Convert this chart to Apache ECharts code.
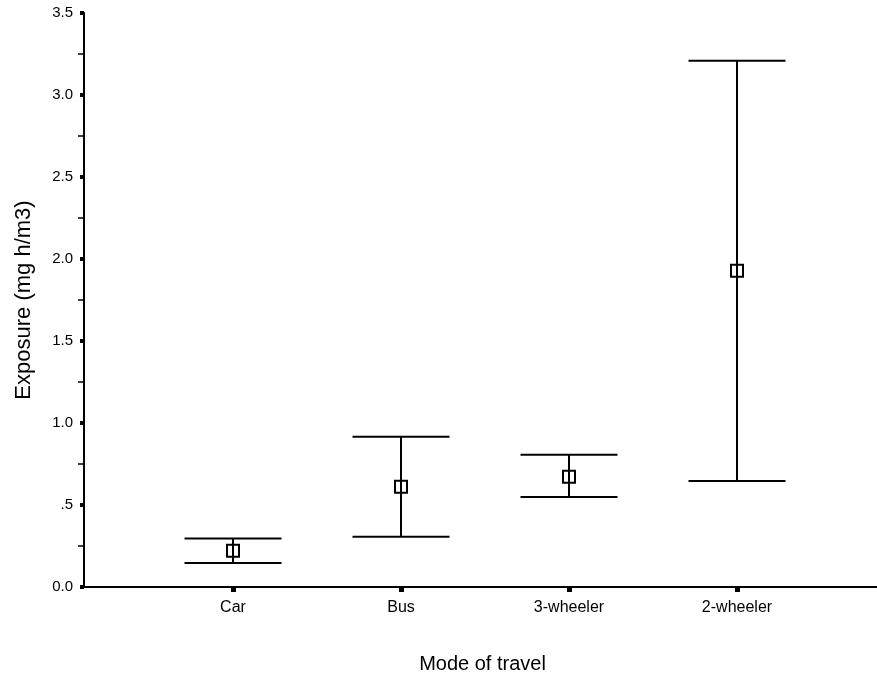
<!DOCTYPE html>
<html>
<head>
<meta charset="utf-8">
<script src="https://cdn.jsdelivr.net/npm/echarts@6/dist/echarts.min.js"></script>
<style>html,body{margin:0;padding:0;background:#fff}#c{width:877px;height:681px}</style>
</head>
<body>
<div id="c"></div>
<script>
const categories = ["Car", "Bus", "3-wheeler", "2-wheeler"];
const means = [0.221, 0.612, 0.673, 1.929];
const lowers = [0.146, 0.307, 0.549, 0.646];
const uppers = [0.295, 0.916, 0.807, 3.209];
const yTicks = [0, 0.5, 1, 1.5, 2, 2.5, 3, 3.5];

const positions = categories.map((c, i) => i + 1);
const FONT = "'Liberation Sans', Arial, sans-serif";

const chart = echarts.init(document.getElementById('c'), null, {renderer: 'canvas'});
const errData = categories.map((c, i) => [positions[i], lowers[i], uppers[i]]);
const meanData = categories.map((c, i) => [positions[i], means[i]]);

chart.setOption({
  animation: false,
  backgroundColor: '#fff',
  grid: {left: 84, right: 0, top: 13, bottom: 94, containLabel: false, outerBoundsMode: 'none'},
  xAxis: {
    type: 'value',
    min: 1 - 149 / 168,
    max: 1 + 644 / 168,
    name: 'Mode of travel',
    nameLocation: 'middle',
    nameGap: 67,
    nameTextStyle: {fontFamily: FONT, fontSize: 20, color: '#000', padding: [0, 0, 0, 4]},
    splitLine: {show: false},
    axisLine: {lineStyle: {color: '#000', width: 2}},
    axisTick: {show: true, customValues: positions, length: 5, inside: false, lineStyle: {color: '#000', width: 5}},
    axisLabel: {customValues: positions, formatter: v => categories[Math.round(v) - 1] || '', fontFamily: FONT, fontSize: 16, color: '#000', margin: 13}
  },
  yAxis: {
    type: 'value',
    min: 0, max: 3.5, interval: 0.5,
    name: 'Exposure (mg h/m3)',
    nameLocation: 'middle',
    nameGap: 49,
    nameTextStyle: {fontFamily: FONT, fontSize: 22, color: '#000'},
    splitLine: {show: false},
    axisLine: {show: true, lineStyle: {color: '#000', width: 2}},
    axisTick: {show: true, length: 4, lineStyle: {color: '#000', width: 4}},
    minorTick: {show: true, splitNumber: 2, length: 6, lineStyle: {color: '#000', width: 1.5}},
    axisLabel: {
      fontFamily: FONT, fontSize: 15, color: '#000', margin: 11,
      formatter: v => { let s = v.toFixed(1); if (v > 0 && v < 1) s = s.slice(1); return s; }
    }
  },
  series: [
    {
      type: 'custom',
      data: errData,
      renderItem: (params, api) => {
        const x = api.value(0);
        const lo = api.coord([x, api.value(1)]);
        const hi = api.coord([x, api.value(2)]);
        const hw = 48.5;
        const style = {stroke: '#000', lineWidth: 2, fill: null};
        return {
          type: 'group',
          children: [
            {type: 'line', shape: {x1: hi[0], y1: hi[1], x2: lo[0], y2: lo[1]}, style},
            {type: 'line', shape: {x1: hi[0] - hw, y1: hi[1], x2: hi[0] + hw, y2: hi[1]}, style},
            {type: 'line', shape: {x1: lo[0] - hw, y1: lo[1], x2: lo[0] + hw, y2: lo[1]}, style}
          ]
        };
      },
      z: 2
    },
    {
      type: 'scatter',
      data: meanData,
      symbol: 'rect',
      symbolSize: [12, 12],
      itemStyle: {color: 'rgba(0,0,0,0)', borderColor: '#000', borderWidth: 2, opacity: 1},
      z: 3
    }
  ]
});
</script>
</body>
</html>
